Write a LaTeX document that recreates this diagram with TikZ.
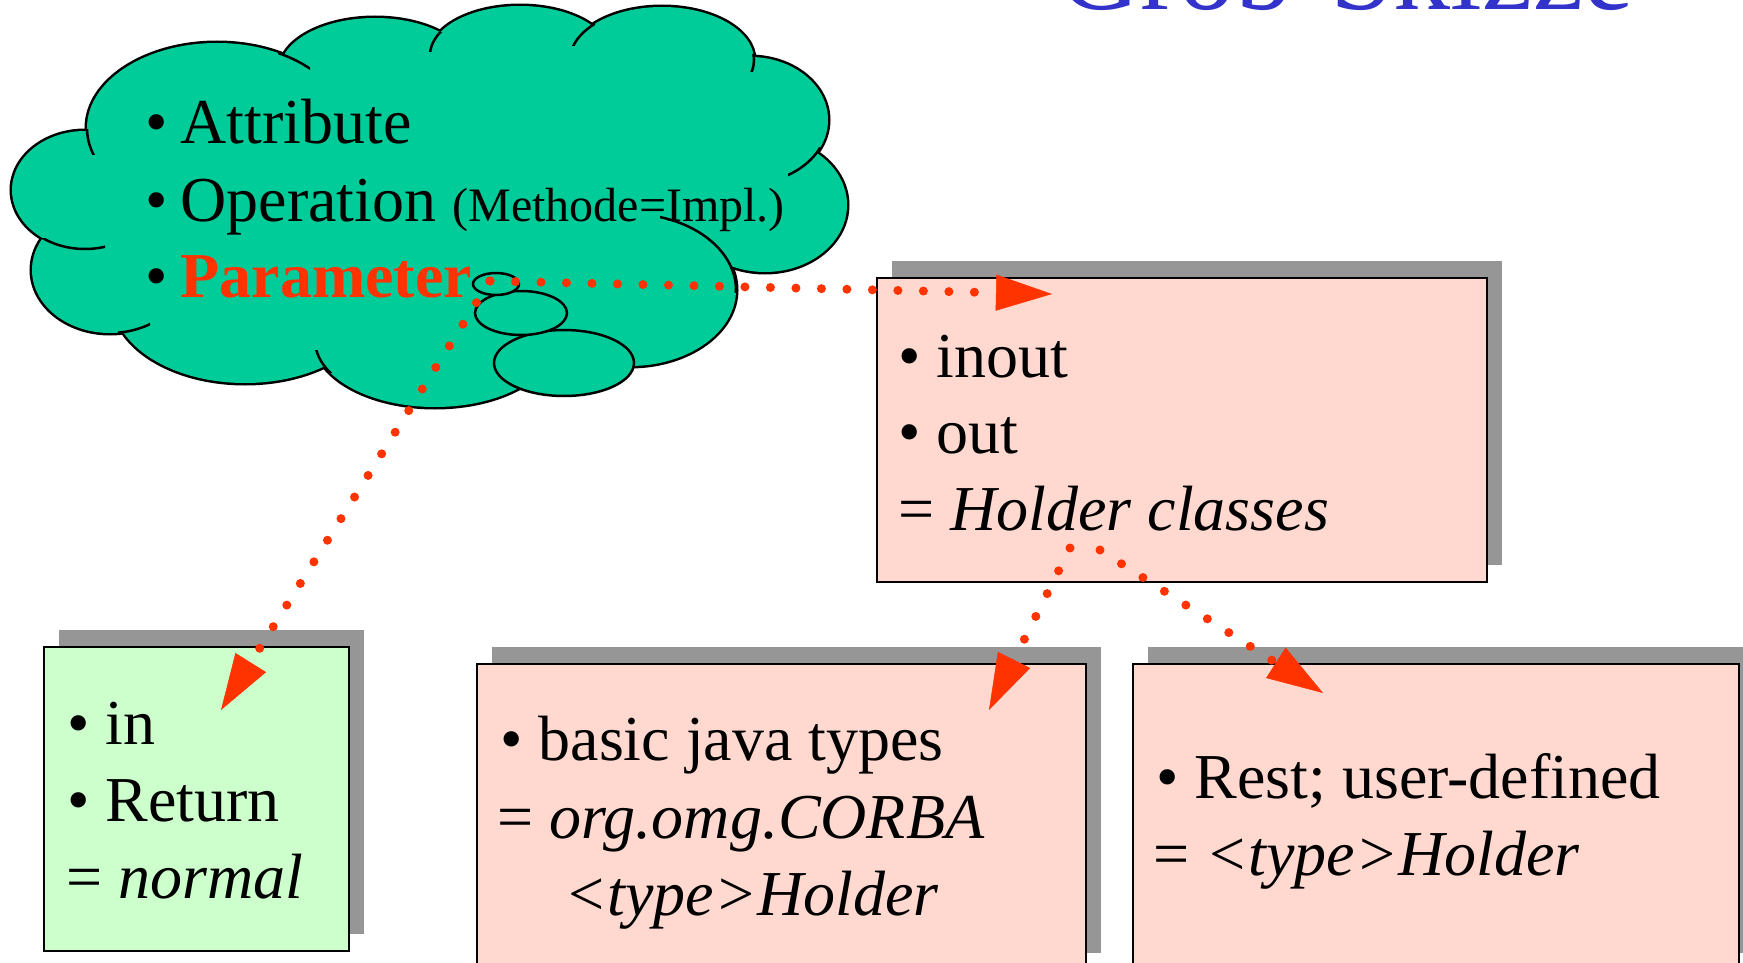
\documentclass[tikz,border=0pt]{standalone}
\usepackage{fontspec}
\setmainfont{Liberation Serif}
\usetikzlibrary{arrows.meta,shadows}
\definecolor{cloudgreen}{HTML}{00CC99}
\definecolor{boxpink}{HTML}{FFD9CF}
\definecolor{boxgreen}{HTML}{CCFFCC}
\definecolor{shadowgray}{HTML}{969696}
\definecolor{arrowred}{HTML}{FF3300}
\definecolor{titleblue}{HTML}{3333CC}
\newcommand\bigtxt{\fontsize{64}{76}\selectfont}
\newcommand\smalltxt{\fontsize{48}{56}\selectfont}
% cloud bumps (centre x, centre y, x radius, y radius)
\newcommand\cloudbumps[1]{%
  \path[#1] (217,128) ellipse [x radius=130pt, y radius=85pt];
  \path[#1] (375,70) ellipse [x radius=95pt, y radius=52pt];
  \path[#1] (520,55) ellipse [x radius=90pt, y radius=49pt];
  \path[#1] (662,60) ellipse [x radius=92pt, y radius=53pt];
  \path[#1] (750,120) ellipse [x radius=78pt, y radius=63pt];
  \path[#1] (765,205) ellipse [x radius=82pt, y radius=67pt];
  \path[#1] (630,290) ellipse [x radius=106pt, y radius=76pt];
  \path[#1] (435,340) ellipse [x radius=120pt, y radius=67pt];
  \path[#1] (245,300) ellipse [x radius=132pt, y radius=83pt];
  \path[#1] (110,270) ellipse [x radius=78pt, y radius=63pt];
  \path[#1] (85,190) ellipse [x radius=73pt, y radius=59pt];
}
\begin{document}
\begin{tikzpicture}[x=1pt,y=-1pt,
  cloudline/.style={draw=black, line width=2.5pt},
  txt/.style={anchor=base west, inner sep=0pt, font=\bigtxt},
  box/.style={draw=black, line width=2.5pt, inner sep=0pt, outer sep=0pt,
    general shadow={fill=shadowgray, shadow xshift=15pt, shadow yshift=17pt}},
  dotarrow/.style={draw=arrowred, line width=9pt, line cap=round, dash pattern=on 0pt off 25.5pt,
    -{Triangle[length=56pt,width=36pt,line width=0.5pt]}}
]
\useasboundingbox (0,0) rectangle (1743,963);

% title
\node[anchor=base west, inner sep=0pt, text=titleblue, font=\fontsize{114}{120}\selectfont] (title) at (1058,10) {Grob-Skizze};

% cloud: outer outline, then fill
\cloudbumps{draw=black, line width=5pt}
\cloudbumps{fill=cloudgreen}
\fill[cloudgreen] (430,200) ellipse [x radius=320pt, y radius=130pt];
\fill[cloudgreen] (600,130) ellipse [x radius=120pt, y radius=60pt];
% inner arc stubs of the cloud
\begin{scope}\clip (80,130) rectangle (100,155);
  \draw[cloudline] (217,128) ellipse [x radius=130pt, y radius=85pt];\end{scope}
\begin{scope}\clip (278,45) rectangle (310,70);
  \draw[cloudline] (217,128) ellipse [x radius=130pt, y radius=85pt];\end{scope}
\begin{scope}\clip (425,33) rectangle (450,52);
  \draw[cloudline] (520,55) ellipse [x radius=90pt, y radius=49pt];\end{scope}
\begin{scope}\clip (565,24) rectangle (595,46);
  \draw[cloudline] (662,60) ellipse [x radius=92pt, y radius=53pt];\end{scope}
\begin{scope}\clip (735,55) rectangle (760,72);
  \draw[cloudline] (662,60) ellipse [x radius=92pt, y radius=53pt];\end{scope}
\begin{scope}\clip (788,148) rectangle (825,176);
  \draw[cloudline] (750,120) ellipse [x radius=78pt, y radius=63pt];\end{scope}
\begin{scope}\clip (660,210) rectangle (742,292);
  \draw[cloudline] (630,290) ellipse [x radius=106pt, y radius=76pt];\end{scope}
\begin{scope}\clip (40,238) rectangle (105,255);
  \draw[cloudline] (85,190) ellipse [x radius=73pt, y radius=59pt];\end{scope}
\begin{scope}\clip (118,318) rectangle (150,340);
  \draw[cloudline] (110,270) ellipse [x radius=78pt, y radius=63pt];\end{scope}
\begin{scope}\clip (310,350) rectangle (332,372);
  \draw[cloudline] (435,340) ellipse [x radius=120pt, y radius=67pt];\end{scope}

% cloud text
\node[txt] (attr) at (145,144) {•\hspace{13pt}Attribute};
\node[txt] (oper) at (145,221) {•\hspace{13pt}Operation {\smalltxt (Methode=Impl.)}};
\node[txt] (param) at (145,297) {•\hspace{13pt}\textcolor{arrowred}{\bfseries Parameter}};

% thought bubbles
\draw[cloudline, fill=cloudgreen] (564,363) ellipse [x radius=70pt, y radius=33pt];
\draw[cloudline, fill=cloudgreen] (521,313) ellipse [x radius=46pt, y radius=22pt];
\draw[cloudline, fill=cloudgreen] (496,284) ellipse [x radius=23pt, y radius=11pt];

% boxes
\node[box, fill=boxpink, minimum width=610pt, minimum height=304pt] (holder) at (1182,430) {};
\node[box, fill=boxgreen, minimum width=305pt, minimum height=304pt] (normal) at (196.5,799) {};
\node[box, fill=boxpink, minimum width=609pt, minimum height=306pt] (basic) at (781.5,817) {};
\node[box, fill=boxpink, minimum width=606pt, minimum height=306pt] (rest) at (1436,817) {};

% box texts
\node[txt] (inout) at (898,377) {• inout};
\node[txt] (out) at (898,453) {• out};
\node[txt] (holdercls) at (898,530) {= \textit{Holder classes}};

\node[txt] (in) at (67,744) {• in};
\node[txt] (ret) at (67,821) {• Return};
\node[txt] (norm) at (66,898) {= \textit{normal}};

\node[txt] (basictypes) at (500,760) {• basic java types};
\node[txt] (corba) at (497,838) {= \textit{org.omg.CORBA}};
\node[txt] (typeholder) at (564,915) {\textit{<type>Holder}};

\node[txt] (restud) at (1156,798) {• Rest; user-defined};
\node[txt] (restholder) at (1153,875) {= \textit{<type>Holder}};

% connector end points
\coordinate (src) at (490,281);
\coordinate (tipHolder) at (1052,294);
\coordinate (tipNormal) at (221,710);
\coordinate (srcA) at (1070,548);
\coordinate (srcB) at (1100,550);
\coordinate (tipBasic) at (989,710);
\coordinate (tipRest) at (1323,693);

% arrows
\draw[dotarrow] (src) -- (tipHolder);
\draw[dotarrow] (src) -- (tipNormal);
\draw[dotarrow] (srcA) -- (tipBasic);
\draw[dotarrow] (srcB) -- (tipRest);
\end{tikzpicture}
\end{document}
